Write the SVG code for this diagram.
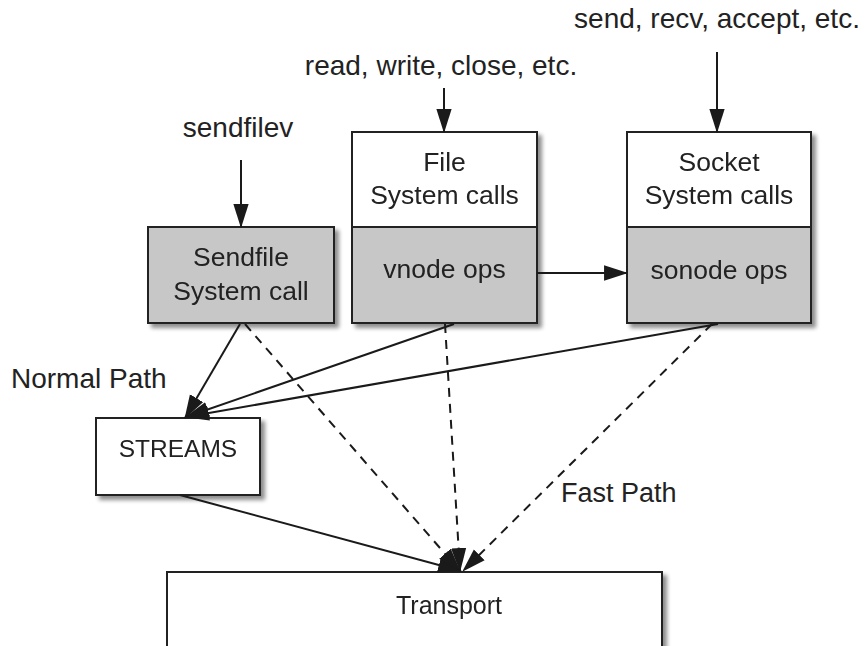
<svg xmlns="http://www.w3.org/2000/svg" width="866" height="646" viewBox="0 0 866 646">
  <style>
    text { font-family: "Liberation Sans", Arial, Helvetica, sans-serif; font-size: 26.5px; fill: #222; text-anchor: middle; }
    .label { font-size: 28px; }
    .box { stroke: #222; stroke-width: 2; }
    .white { fill: #fff; }
    .gray { fill: #c7c7c7; }
    .line { stroke: #1a1a1a; stroke-width: 2; fill: none; }
    .dash { stroke-dasharray: 9 7; }
    .left { text-anchor: start; }
  </style>
  <defs>
    <filter id="shadow" x="-5%" y="-5%" width="115%" height="120%">
      <feGaussianBlur in="SourceAlpha" stdDeviation="2" result="b"/>
      <feOffset in="b" dx="4" dy="4" result="o"/>
      <feComponentTransfer in="o" result="s">
        <feFuncA type="linear" slope="0.45"/>
      </feComponentTransfer>
      <feMerge>
        <feMergeNode in="s"/>
        <feMergeNode in="SourceGraphic"/>
      </feMerge>
    </filter>
    <marker id="arrow" markerUnits="userSpaceOnUse" markerWidth="24" markerHeight="16" viewBox="0 0 22 14" refX="21" refY="7" orient="auto">
      <path d="M0,0 L22,7 L0,14 Z" fill="#1a1a1a"/>
    </marker>
  </defs>

  <!-- labels for the system call entry points -->
  <g id="labels">
    <text class="label" x="238" y="137">sendfilev</text>
    <text class="label" x="441" y="75">read, write, close, etc.</text>
    <text class="label" x="717" y="28">send, recv, accept, etc.</text>
    <text class="label left" x="11" y="388">Normal Path</text>
    <text class="left" x="561" y="502" style="font-size:27px">Fast Path</text>
  </g>

  <!-- sendfile system call -->
  <g id="sendfile" filter="url(#shadow)">
    <rect class="box gray" x="148" y="227" width="186" height="96"/>
    <text x="241" y="266">Sendfile</text>
    <text x="241" y="300">System call</text>
  </g>

  <!-- file system calls over vnode ops -->
  <g id="file" filter="url(#shadow)">
    <rect class="box white" x="352" y="132" width="185" height="95"/>
    <rect class="box gray" x="352" y="227" width="185" height="96"/>
    <text x="444.5" y="171">File</text>
    <text x="444.5" y="204">System calls</text>
    <text x="444.5" y="278">vnode ops</text>
  </g>

  <!-- socket system calls over sonode ops -->
  <g id="socket" filter="url(#shadow)">
    <rect class="box white" x="627" y="132" width="184" height="95"/>
    <rect class="box gray" x="627" y="227" width="184" height="96"/>
    <text x="719" y="171">Socket</text>
    <text x="719" y="204">System calls</text>
    <text x="719" y="279">sonode ops</text>
  </g>

  <!-- STREAMS -->
  <g id="streams" filter="url(#shadow)">
    <rect class="box white" x="96" y="418" width="164" height="77"/>
    <text x="178" y="457" style="font-size:24.5px">STREAMS</text>
  </g>

  <!-- Transport -->
  <g id="transport" filter="url(#shadow)">
    <rect class="box white" x="167" y="572" width="495" height="90"/>
    <text x="449" y="614" style="font-size:25px">Transport</text>
  </g>

  <!-- connectors -->
  <g id="connectors">
    <line class="line" x1="241" y1="160" x2="241" y2="227" marker-end="url(#arrow)"/>
    <line class="line" x1="444" y1="88" x2="444" y2="132" marker-end="url(#arrow)"/>
    <line class="line" x1="717" y1="52" x2="717" y2="132" marker-end="url(#arrow)"/>
    <line class="line" x1="537" y1="273" x2="627" y2="273" marker-end="url(#arrow)"/>

    <!-- normal path into STREAMS -->
    <line class="line" x1="240" y1="324" x2="185" y2="418" marker-end="url(#arrow)"/>
    <line class="line" x1="454" y1="324" x2="186" y2="417" marker-end="url(#arrow)"/>
    <line class="line" x1="718" y1="324" x2="186" y2="417" marker-end="url(#arrow)"/>
    <line class="line" x1="180" y1="495" x2="461" y2="571" marker-end="url(#arrow)"/>

    <!-- fast path straight to transport -->
    <line class="line dash" x1="245" y1="324" x2="460" y2="571" marker-end="url(#arrow)"/>
    <line class="line dash" x1="445" y1="324" x2="460" y2="571" marker-end="url(#arrow)"/>
    <line class="line dash" x1="712" y1="324" x2="463" y2="571" marker-end="url(#arrow)"/>
  </g>
</svg>
